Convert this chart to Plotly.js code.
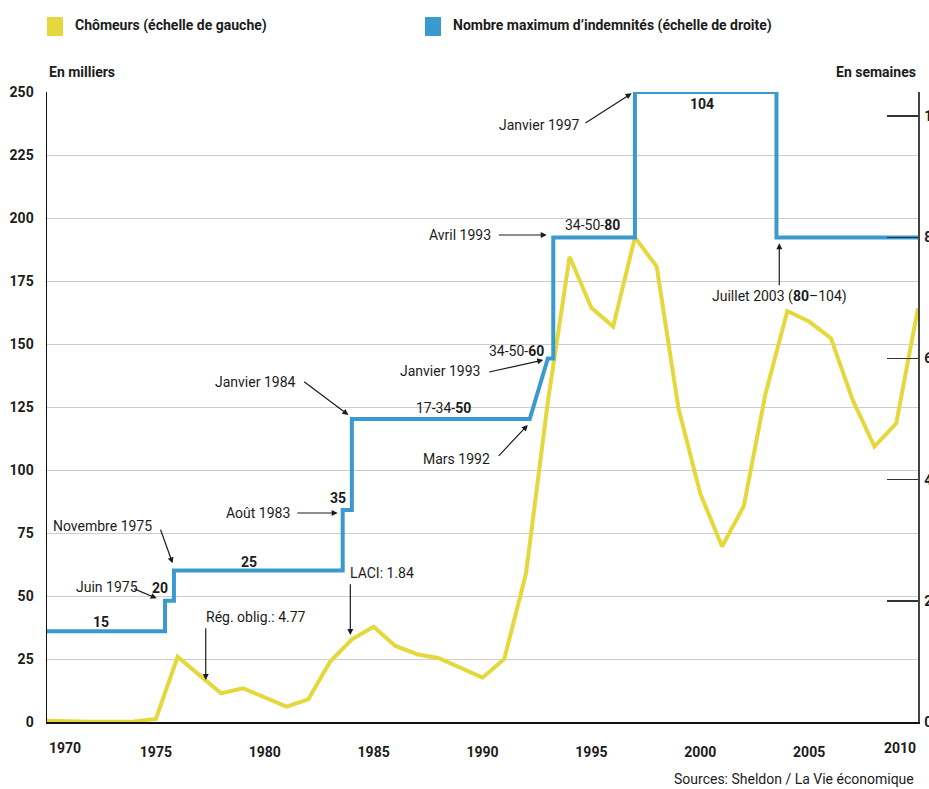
<!DOCTYPE html>
<html>
<head>
<meta charset="utf-8">
<script src="https://cdn.plot.ly/plotly-3.0.1.min.js"></script>
<style>
  html, body { margin: 0; padding: 0; background: #fff; overflow: hidden; }
  #chart { width: 929px; height: 789px; }
</style>
</head>
<body>
<div id="chart"></div>
<script>
// Chômeurs inscrits, moyenne annuelle (en milliers)
const years = [1970, 1971, 1972, 1973, 1974, 1975, 1976, 1977, 1978, 1979,
               1980, 1981, 1982, 1983, 1984, 1985, 1986, 1987, 1988, 1989,
               1990, 1991, 1992, 1993, 1994, 1995, 1996, 1997, 1998, 1999,
               2000, 2001, 2002, 2003, 2004, 2005, 2006, 2007, 2008, 2009, 2010];
const unemployed = [0.5, 0.2, 0.1, 0.1, 0.2, 1.2, 25.9, 18.6, 11.4, 13.4,
                    9.8, 6.1, 9.0, 23.9, 32.8, 37.8, 30.2, 26.9, 25.3, 21.3,
                    17.6, 25.0, 59.0, 127.0, 184.6, 164.4, 156.9, 192.3, 180.7, 124.5,
                    90.7, 69.6, 85.7, 130.4, 163.1, 158.9, 152.3, 127.8, 109.3, 118.5, 164.2];

// Nombre maximum d'indemnités journalières, en semaines, par régime
// changeBegin: début du passage au régime (rampe Mars 1992 -> Janvier 1993)
const changeBegin = [1970, 1975.42, 1975.83, 1983.58, 1984.0, 1992.17, 1993.25, 1997.0, 2003.5];
const regimeStart = [1970, 1975.42, 1975.83, 1983.58, 1984.0, 1993.0, 1993.25, 1997.0, 2003.5];
const maxWeeks    = [15, 20, 25, 35, 50, 60, 80, 104, 80];
const tierPrefix  = ['', '', '', '', '17-34-', '34-50-', '34-50-', '', ''];
const periodEnd = 2010;

const xTicks = [1975, 1980, 1985, 1990, 1995, 2000, 2005];
const leftTicks = [0, 25, 50, 75, 100, 125, 150, 175, 200, 225, 250];
const rightTicks = [0, 20, 40, 60, 80, 100];

// Legend / notes
const seriesNames = ['Chômeurs (échelle de gauche)', 'Nombre maximum d’indemnités (échelle de droite)'];
const sourceNote = 'Sources: Sheldon / La Vie économique';

const YELLOW = '#e4d83c';
const BLUE = '#3a9ad0';
const INK = '#1c1c1c';
const FONT = 'Roboto, "Open Sans", "DejaVu Sans", sans-serif';

// Stepped line: each regime change is vertical, except the phased 50 -> 60 change
const stepX = [], stepY = [];
for (let i = 0; i < maxWeeks.length; i++) {
  if (i > 0) { stepX.push(changeBegin[i]); stepY.push(maxWeeks[i - 1]); }
  stepX.push(regimeStart[i]); stepY.push(maxWeeks[i]);
}
stepX.push(periodEnd); stepY.push(maxWeeks[maxWeeks.length - 1]);

const traces = [
  {
    x: years, y: unemployed, type: 'scatter', mode: 'lines', yaxis: 'y',
    line: { color: YELLOW, width: 4 }, name: seriesNames[0], hoverinfo: 'skip'
  },
  {
    x: stepX, y: stepY, type: 'scatter', mode: 'lines', yaxis: 'y2',
    line: { color: BLUE, width: 4 }, name: seriesNames[1], hoverinfo: 'skip'
  }
];

const annotations = [];
const txt = (o) => Object.assign({ showarrow: false, yanchor: 'middle',
  font: { family: FONT, size: 14, color: INK } }, o);
const arrow = (hx, hy, tx, ty) => ({
  x: hx, y: hy, ax: tx, ay: ty, xref: 'x', yref: 'y', axref: 'x', ayref: 'y',
  text: '', showarrow: true, arrowhead: 2, arrowsize: 1, arrowwidth: 1.2, arrowcolor: INK
});

// Weeks labels sitting on each plateau
const plateauLabel = [
  { i: 0, x: 1972.48, dy: 9 },
  { i: 1, x: 1975.19, dy: 13 },
  { i: 2, x: 1979.28, dy: 9 },
  { i: 3, x: 1983.38, dy: 12 },
  { i: 4, x: 1988.19, dy: 11 },
  { i: 5, x: 1991.57, dy: 8 },
  { i: 6, x: 1995.03, dy: 12 },
  { i: 7, x: 2000.07, dy: -12 }
];
plateauLabel.forEach(p => {
  annotations.push(txt({
    x: p.x, y: maxWeeks[p.i], xref: 'x', yref: 'y2', yshift: p.dy,
    text: tierPrefix[p.i] + '<b>' + maxWeeks[p.i] + '</b>'
  }));
});

// Dated changes of the law
annotations.push(txt({ x: 1974.26, y: 53.7, xref: 'x', yref: 'y', xanchor: 'right', text: 'Juin 1975' }));
annotations.push(arrow(1975.04, 49.09, 1973.94, 53.06));
annotations.push(txt({ x: 1974.91, y: 77.8, xref: 'x', yref: 'y', xanchor: 'right', text: 'Novembre 1975' }));
annotations.push(arrow(1975.77, 62.98, 1975.19, 76.87));
annotations.push(txt({ x: 1981.24, y: 83.1, xref: 'x', yref: 'y', xanchor: 'right', text: 'Août 1983' }));
annotations.push(arrow(1983.35, 82.94, 1981.43, 82.94));
annotations.push(txt({ x: 1981.51, y: 135.0, xref: 'x', yref: 'y', xanchor: 'right', text: 'Janvier 1984' }));
annotations.push(arrow(1983.84, 121.83, 1981.74, 135.44));
annotations.push(txt({ x: 1990.45, y: 104.2, xref: 'x', yref: 'y', xanchor: 'right', text: 'Mars 1992' }));
annotations.push(arrow(1992.08, 117.86, 1990.68, 105.04));
annotations.push(txt({ x: 1989.99, y: 139.4, xref: 'x', yref: 'y', xanchor: 'right', text: 'Janvier 1993' }));
annotations.push(arrow(1992.79, 143.65, 1990.24, 138.77));
annotations.push(txt({ x: 1990.47, y: 193.3, xref: 'x', yref: 'y', xanchor: 'right', text: 'Avril 1993' }));
annotations.push(arrow(1992.95, 193.25, 1990.68, 193.25));
annotations.push(txt({ x: 1994.56, y: 236.9, xref: 'x', yref: 'y', xanchor: 'right', text: 'Janvier 1997' }));
annotations.push(arrow(1996.85, 249.48, 1994.66, 237.3));
annotations.push(txt({
  x: 2003.65, y: 168.8, xref: 'x', yref: 'y',
  text: 'Juillet 2003 (<b>' + maxWeeks[8] + '</b>–' + maxWeeks[7] + ')'
}));
annotations.push(arrow(2003.63, 189.96, 2003.63, 172.74));

// Contribution rates
annotations.push(txt({ x: 1977.21, y: 41.5, xref: 'x', yref: 'y', xanchor: 'left', text: 'Rég. oblig.: 4.77' }));
annotations.push(arrow(1977.29, 16.67, 1977.29, 37.82));
annotations.push(txt({ x: 1983.84, y: 59.0, xref: 'x', yref: 'y', xanchor: 'left', text: 'LACI: 1.84' }));
annotations.push(arrow(1983.93, 34.52, 1983.93, 55.28));

// End years of the time axis, kept inside the frame
annotations.push(txt({ x: 1970, y: 0, xref: 'x', yref: 'paper', xanchor: 'left', yshift: -26,
  text: '<b>1970</b>' }));
annotations.push(txt({ x: 2010, y: 0, xref: 'x', yref: 'paper', xanchor: 'right', yshift: -26,
  text: '<b>2010</b>' }));

// Axis captions
annotations.push(txt({ x: 0, y: 1.0317, xref: 'paper', yref: 'paper', xanchor: 'left', text: '<b>En milliers</b>' }));
annotations.push(txt({ x: 1, y: 1.0317, xref: 'paper', yref: 'paper', xanchor: 'right', text: '<b>En semaines</b>' }));

// Legend
annotations.push(txt({ x: 0.0299, y: 1.1048, xref: 'paper', yref: 'paper', xanchor: 'left', text: '<b>' + seriesNames[0] + '</b>' }));
annotations.push(txt({ x: 0.4638, y: 1.1048, xref: 'paper', yref: 'paper', xanchor: 'left', text: '<b>' + seriesNames[1] + '</b>' }));

// Source
annotations.push(txt({ x: 0.9977, y: -0.0905, xref: 'paper', yref: 'paper', xanchor: 'right', text: sourceNote }));

const shapes = [
  { type: 'rect', xref: 'paper', yref: 'paper', x0: 0, x1: 0.0184, y0: 1.0889, y1: 1.119,
    fillcolor: YELLOW, line: { width: 0 } },
  { type: 'rect', xref: 'paper', yref: 'paper', x0: 0.434, x1: 0.4524, y0: 1.0889, y1: 1.119,
    fillcolor: BLUE, line: { width: 0 } }
];

const tickFont = { family: FONT, size: 14, color: INK, weight: 'bold' };

const layout = {
  width: 929, height: 789,
  margin: { l: 47, r: 11, t: 92, b: 67, pad: 0 },
  paper_bgcolor: '#ffffff', plot_bgcolor: '#ffffff',
  showlegend: false,
  font: { family: FONT, color: INK },
  xaxis: {
    range: [1970, 2010], tickvals: xTicks, ticktext: xTicks.map(String),
    showgrid: false, zeroline: false, showline: true, linecolor: '#111', linewidth: 1.5,
    ticks: '', tickfont: tickFont, ticklabelstandoff: 17, automargin: false, fixedrange: true
  },
  yaxis: {
    range: [0, 250], tickvals: leftTicks, ticktext: leftTicks.map(String),
    showgrid: true, gridcolor: '#cdcdcd', gridwidth: 1, zeroline: false,
    showline: true, linecolor: '#111', linewidth: 1.5, ticks: '',
    tickfont: tickFont, ticklabelstandoff: 9, automargin: false, fixedrange: true
  },
  yaxis2: {
    range: [0, 104], overlaying: 'y', side: 'right', anchor: 'x',
    tickvals: rightTicks, ticktext: rightTicks.map(String),
    showgrid: false, zeroline: false, showline: true, linecolor: '#444', linewidth: 1.5,
    ticks: 'inside', ticklen: 31, tickwidth: 1.5, tickcolor: '#333',
    tickfont: tickFont, ticklabelstandoff: 2, automargin: false, fixedrange: true
  },
  annotations: annotations,
  shapes: shapes
};

Plotly.newPlot('chart', traces, layout, { displayModeBar: false, staticPlot: true });
</script>
</body>
</html>
